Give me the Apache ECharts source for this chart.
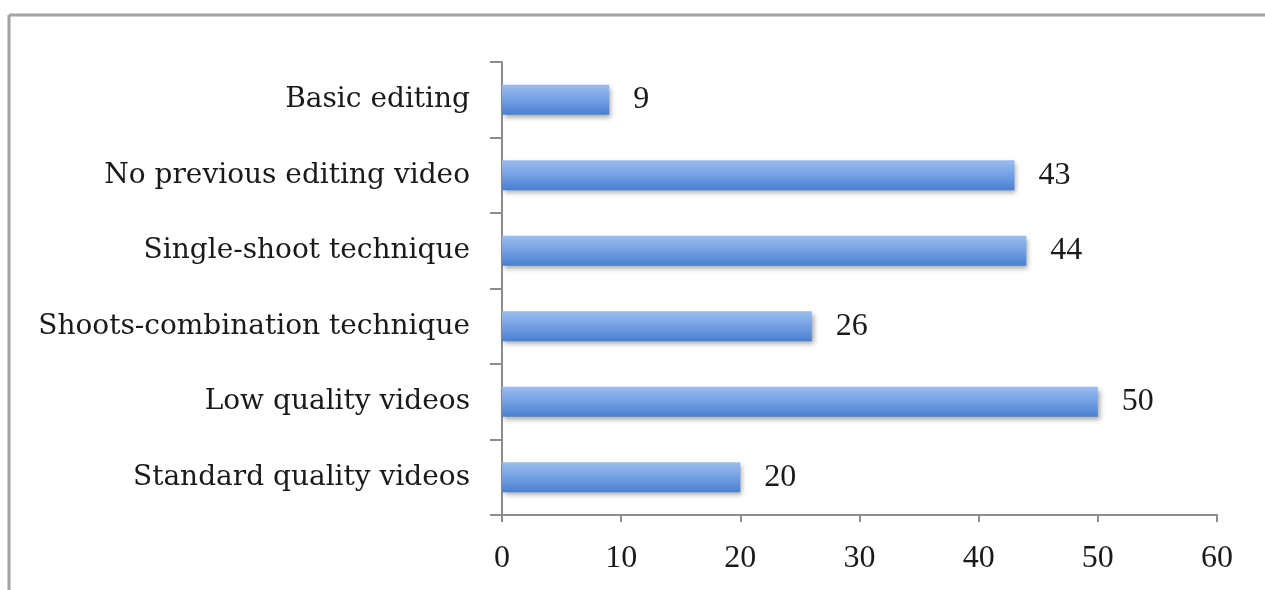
<!DOCTYPE html>
<html>
<head>
<meta charset="utf-8">
<script src="https://cdn.jsdelivr.net/npm/echarts@6/dist/echarts.min.js"></script>
<style>
  html, body { margin: 0; padding: 0; background: #fff; }
  #chart { width: 1265px; height: 590px; }
</style>
</head>
<body>
<div id="chart"></div>
<script>
// Categories listed bottom to top (category axis runs upward)
const categories = [
  'Standard quality videos',
  'Low quality videos',
  'Shoots-combination technique',
  'Single-shoot technique',
  'No previous editing video',
  'Basic editing'
];
const counts = [20, 50, 26, 44, 43, 9];
const xTicks = [0, 10, 20, 30, 40, 50, 60];

const TEXT_FONT = 'DejaVu Serif';
const NUM_FONT = 'Liberation Serif';
const chart = echarts.init(document.getElementById('chart'));

chart.setOption({
  animation: false,
  graphic: [
    // outer frame: top and left edges
    { type: 'line', shape: { x1: 9, y1: 15, x2: 1265, y2: 15 }, style: { stroke: '#a3a3a3', lineWidth: 3 } },
    { type: 'line', shape: { x1: 9, y1: 15, x2: 9, y2: 590 }, style: { stroke: '#a3a3a3', lineWidth: 3 } }
  ],
  grid: { left: 502, right: 48, top: 62, bottom: 75 },
  xAxis: {
    type: 'value',
    min: xTicks[0],
    max: xTicks[xTicks.length - 1],
    interval: 10,
    splitLine: { show: false },
    axisLine: { show: true, lineStyle: { color: '#8c8c8c', width: 2 } },
    axisTick: { show: true, length: 7, lineStyle: { color: '#8c8c8c', width: 2 } },
    axisLabel: { color: '#1a1a1a', fontFamily: NUM_FONT, fontSize: 32, margin: 28 }
  },
  yAxis: {
    type: 'category',
    data: categories,
    axisLine: { show: true, lineStyle: { color: '#8c8c8c', width: 2 } },
    axisTick: { show: true, length: 12, lineStyle: { color: '#8c8c8c', width: 2 } },
    axisLabel: { color: '#1a1a1a', fontFamily: TEXT_FONT, fontSize: 28, margin: 32 }
  },
  series: [{
    type: 'bar',
    data: counts,
    barWidth: 30,
    itemStyle: {
      color: new echarts.graphic.LinearGradient(0, 0, 0, 1, [
        { offset: 0, color: '#9bbdf0' },
        { offset: 0.55, color: '#6f9de2' },
        { offset: 1, color: '#4a7fcf' }
      ]),
      shadowColor: 'rgba(0,0,0,0.35)',
      shadowBlur: 5,
      shadowOffsetX: 2,
      shadowOffsetY: 3
    },
    label: {
      show: true,
      position: 'right',
      distance: 24,
      color: '#1a1a1a',
      fontFamily: NUM_FONT,
      fontSize: 32
    }
  }]
});
</script>
</body>
</html>
